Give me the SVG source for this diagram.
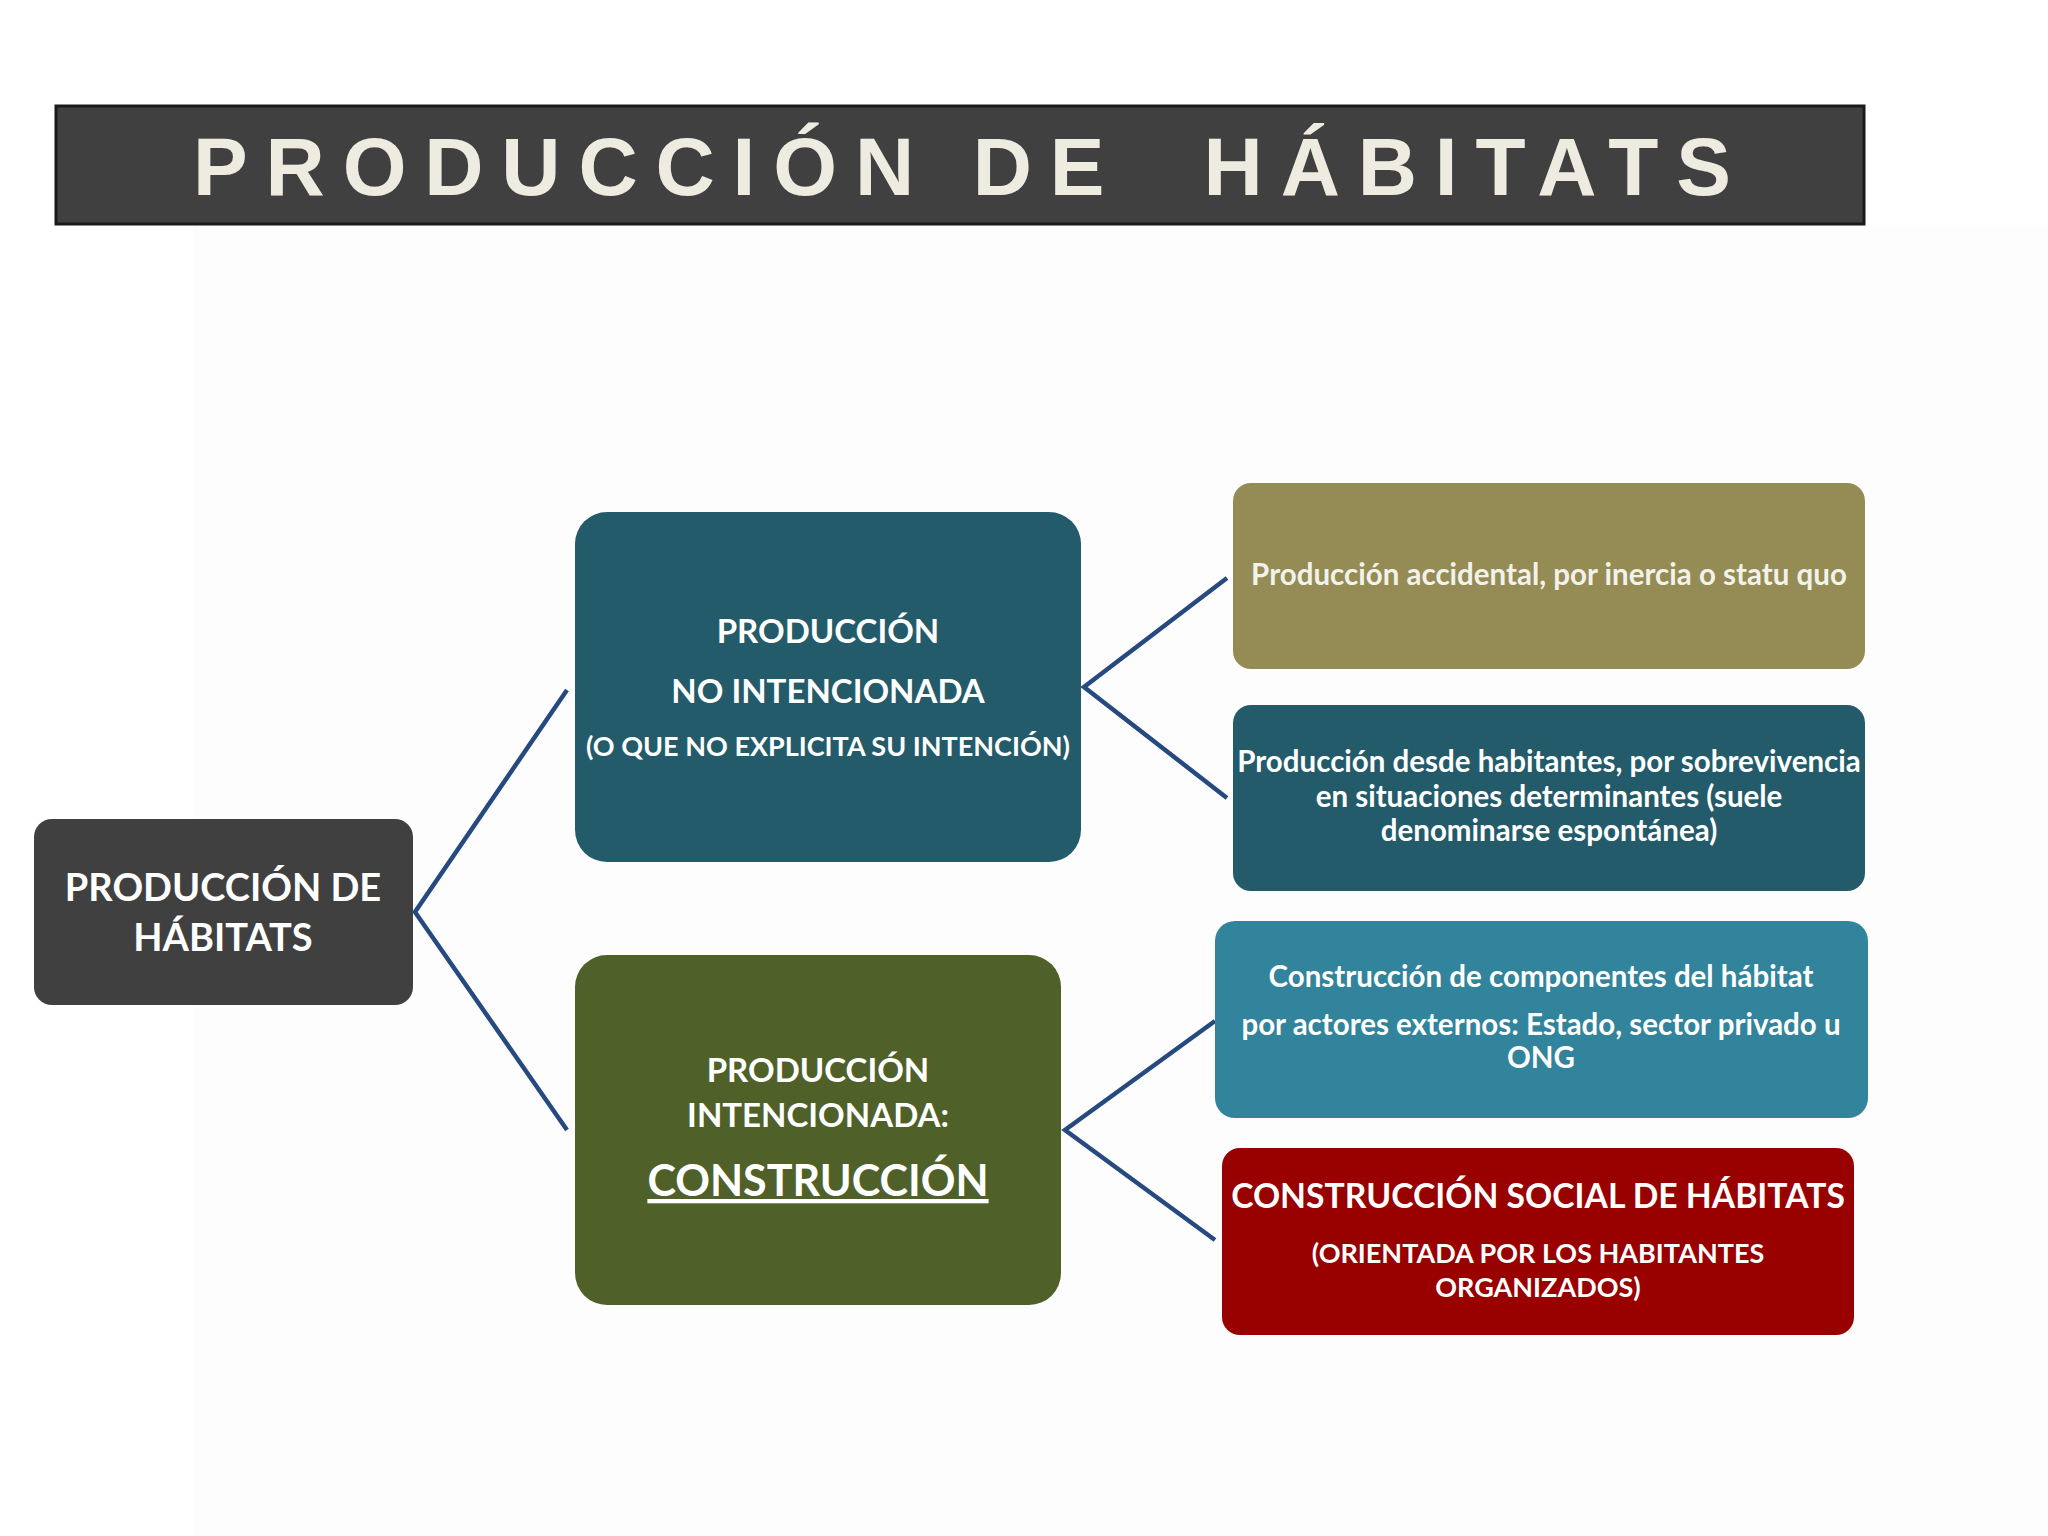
<svg xmlns="http://www.w3.org/2000/svg" width="2048" height="1536" viewBox="0 0 2048 1536">
<style>
.t{font-family:Lato,"Open Sans","Noto Sans",sans-serif;font-weight:bold;fill:#ffffff;text-anchor:middle}
.lt{fill:#f2f2ea}
.c{stroke:#264a80;stroke-width:4.5;fill:none;stroke-linejoin:miter}
</style>
<rect x="0" y="0" width="2048" height="1536" fill="#ffffff"/>
<rect x="193" y="225" width="1855" height="1311" fill="#fdfdfd"/>
<g id="header">
<rect x="56" y="106" width="1808" height="118" fill="#404040" stroke="#1a1a1a" stroke-width="3"/>
<text x="193" y="195" textLength="1538" lengthAdjust="spacing" font-family="'Liberation Sans',Arial,sans-serif" font-weight="bold" font-size="82" fill="#eeece1" xml:space="preserve">PRODUCCIÓN DE  HÁBITATS</text>
</g>
<g id="connectors">
<polyline class="c" points="567,690 415,912 567,1130"/>
<polyline class="c" points="1227,578 1084,687 1227,798"/>
<polyline class="c" points="1215,1021 1065,1130 1215,1240"/>
</g>
<g id="root">
<rect x="34" y="819" width="379" height="186" rx="18" fill="#404040"/>
<text class="t" x="223" y="901" font-size="38">PRODUCCIÓN DE</text>
<text class="t" x="223" y="951" font-size="38">HÁBITATS</text>
</g>
<g id="no-intencionada">
<rect x="575" y="512" width="506" height="350" rx="32" fill="#235b6a"/>
<text class="t" x="828" y="643" font-size="33">PRODUCCIÓN</text>
<text class="t" x="828" y="703" font-size="33">NO INTENCIONADA</text>
<text class="t" x="828" y="756" font-size="27">(O QUE NO EXPLICITA SU INTENCIÓN)</text>
</g>
<g id="intencionada">
<rect x="575" y="955" width="486" height="350" rx="32" fill="#4f6129"/>
<text class="t" x="818" y="1082" font-size="33">PRODUCCIÓN</text>
<text class="t" x="818" y="1127" font-size="33">INTENCIONADA:</text>
<text class="t" x="818" y="1196" font-size="43" text-decoration="underline">CONSTRUCCIÓN</text>
</g>
<g id="accidental">
<rect x="1233" y="483" width="632" height="186" rx="18" fill="#958b55"/>
<text class="t lt" x="1549" y="585" font-size="29.5">Producción accidental, por inercia o statu quo</text>
</g>
<g id="habitantes">
<rect x="1233" y="705" width="632" height="186" rx="18" fill="#235b6a"/>
<text class="t" x="1549" y="772" font-size="29.5">Producción desde habitantes, por sobrevivencia</text>
<text class="t" x="1549" y="807" font-size="29.5">en situaciones determinantes (suele</text>
<text class="t" x="1549" y="841" font-size="29.5">denominarse espontánea)</text>
</g>
<g id="componentes">
<rect x="1215" y="921" width="653" height="197" rx="20" fill="#31849b"/>
<text class="t" x="1541" y="987" font-size="29.5">Construcción de componentes del hábitat</text>
<text class="t" x="1541" y="1035" font-size="29.5">por actores externos: Estado, sector privado u</text>
<text class="t" x="1541" y="1068" font-size="29.5">ONG</text>
</g>
<g id="social">
<rect x="1222" y="1148" width="632" height="187" rx="18" fill="#990000"/>
<text class="t" x="1538" y="1208" font-size="33.7">CONSTRUCCIÓN SOCIAL DE HÁBITATS</text>
<text class="t" x="1538" y="1263" font-size="27">(ORIENTADA POR LOS HABITANTES</text>
<text class="t" x="1538" y="1297" font-size="27">ORGANIZADOS)</text>
</g>
</svg>
